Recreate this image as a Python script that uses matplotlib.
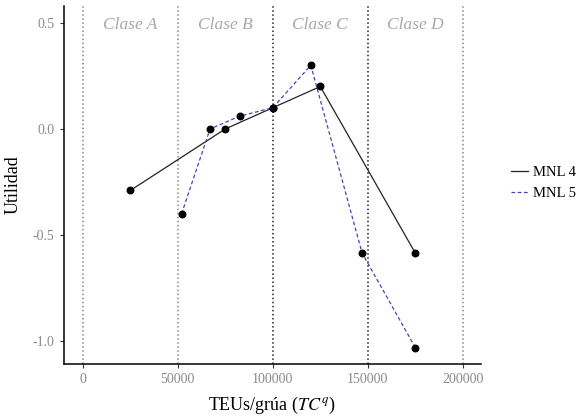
import matplotlib
matplotlib.use("Agg")
import matplotlib.pyplot as plt

plt.rcParams['font.family'] = ['Liberation Serif', 'DejaVu Serif']
plt.rcParams['mathtext.fontset'] = 'stix'

# datos
x_mnl4 = [25000, 75000, 100000, 125000, 175000]
y_mnl4 = [-0.29, 0.0, 0.10, 0.20, -0.585]
x_mnl5 = [52000, 67000, 82500, 100000, 120000, 147000, 175000]
y_mnl5 = [-0.40, 0.0, 0.06, 0.10, 0.30, -0.585, -1.03]

limites = [0, 50000, 100000, 150000, 200000]
clases = ['Clase A', 'Clase B', 'Clase C', 'Clase D']
centros = [25000, 75000, 125000, 175000]

fig = plt.figure(figsize=(5.85, 4.18), dpi=100)
ax = fig.add_axes([0.109, 0.129, 0.713, 0.857])

for xv in limites:
    col = '#222222' if xv in (100000, 150000) else '#888888'
    ax.axvline(xv, color=col, linestyle=':', linewidth=1.1, zorder=1)

for c, xc in zip(clases, centros):
    ax.text(xc, 0.49, c, ha='center', va='center', style='italic',
            color='#a8a8a8', fontsize=12.5)

ax.plot(x_mnl4, y_mnl4, color='#222222', linewidth=0.9, linestyle='-', label='MNL 4', zorder=2)
ax.plot(x_mnl5, y_mnl5, color='#4646b4', linewidth=0.9, linestyle=(0, (3, 2)), label='MNL 5', zorder=2)
ax.scatter(x_mnl4, y_mnl4, color='black', s=22, zorder=3)
ax.scatter(x_mnl5, y_mnl5, color='black', s=22, zorder=3)

ax.set_xlim(-10000, 209500)
ax.set_ylim(-1.108, 0.58)
ax.set_xticks(limites)
ax.set_xticklabels(['0', '50000', '100000', '150000', '200000'])
ax.set_yticks([0.5, 0.0, -0.5, -1.0])
ax.set_yticklabels(['0.5', '0.0', '-0.5', '-1.0'])
ax.tick_params(colors='#333333', labelcolor='#8a8a8a', labelsize=10, length=3)

for s in ['top', 'right']:
    ax.spines[s].set_visible(False)
for s in ['left', 'bottom']:
    ax.spines[s].set_linewidth(1.1)

ax.set_xlabel('TEUs/grúa ($TC^q$)', fontsize=13, labelpad=6)
ax.set_ylabel('Utilidad', fontsize=13, labelpad=8)

ax.legend(loc='center left', bbox_to_anchor=(1.04, 0.506), frameon=False,
          fontsize=10.5, handlelength=1.2, handletextpad=0.3, labelspacing=0.5)

fig.savefig('out.png', dpi=100)
